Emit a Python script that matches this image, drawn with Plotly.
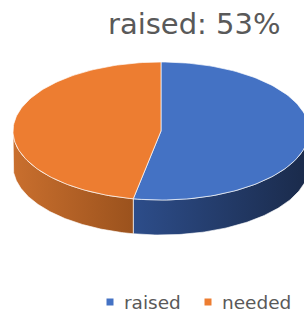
import numpy as np
import plotly.graph_objects as go

# ---- data ----
labels = ["raised", "needed"]
values = [53, 47]
top_colors = ["#4472C4", "#ED7D31"]
side_scales = [
    [[0, "#2d4d8a"], [1, "#1a2a4a"]],
    [[0, "#c96f2e"], [1, "#9b521d"]],
]
title_text = "raised: 53%"

# ---- geometry (pixels) ----
W, H = 304, 314
cx, cy, rx, ry, depth = 161, 131, 148, 69, 35
legend_x = [110, 208]      # legend key centres
legend_y = 302
text_color = "#595959"
font_family = "DejaVu Sans"


def arc(a0, a1, dy=0, n=120):
    t = np.radians(np.linspace(a0, a1, n))
    return cx + rx * np.sin(t), cy - ry * np.cos(t) + dy


total = float(sum(values))
slices = []
start = 0.0
for v in values:
    end = start + 360.0 * v / total
    slices.append((start, end))
    start = end

fig = go.Figure()

# side walls (front half only: 90..270 deg clockwise from 12 o'clock)
for (a0, a1), cs in zip(slices, side_scales):
    lo, hi = max(a0, 90), min(a1, 270)
    if hi <= lo:
        continue
    xt, yt = arc(lo, hi)
    xb, yb = arc(hi, lo, dy=depth)
    xs = np.concatenate([xt, xb, xt[:1]])
    ys = np.concatenate([yt, yb, yt[:1]])
    fig.add_trace(go.Scatter(
        x=xs, y=ys, mode="lines", fill="toself",
        fillgradient=dict(type="horizontal", colorscale=cs),
        line=dict(color="rgba(255,255,255,0.8)", width=0.8),
        showlegend=False, hoverinfo="skip"))

# top faces
for (a0, a1), c in zip(slices, top_colors):
    xa, ya = arc(a0, a1)
    xs = np.concatenate([[cx], xa, [cx]])
    ys = np.concatenate([[cy], ya, [cy]])
    fig.add_trace(go.Scatter(
        x=xs, y=ys, mode="lines", fill="toself", fillcolor=c,
        line=dict(color="rgba(255,255,255,0.85)", width=0.8),
        showlegend=False, hoverinfo="skip"))

# legend keys + labels
fig.add_trace(go.Scatter(
    x=legend_x, y=[legend_y] * len(labels), mode="markers",
    marker=dict(symbol="square", size=7, color=top_colors),
    showlegend=False, hoverinfo="skip"))
for lx, lab in zip(legend_x, labels):
    fig.add_annotation(
        x=lx + 12, y=legend_y, xref="x", yref="y", xanchor="left",
        yanchor="middle", text=lab, showarrow=False,
        font=dict(family=font_family, size=18.5, color=text_color))

fig.add_annotation(
    x=283, y=24, xref="x", yref="y", xanchor="right", yanchor="middle",
    text=title_text, showarrow=False,
    font=dict(family=font_family, size=29, color=text_color))

fig.update_layout(
    width=W, height=H, margin=dict(l=0, r=0, t=0, b=0),
    paper_bgcolor="white", plot_bgcolor="white",
    xaxis=dict(range=[0, W], visible=False, fixedrange=True),
    yaxis=dict(range=[H, 0], visible=False, fixedrange=True),
    showlegend=False,
)

fig.write_html("out.html", config={"displayModeBar": False},
               post_script="document.body.style.margin='0';"
                           "document.body.style.overflow='hidden';")
